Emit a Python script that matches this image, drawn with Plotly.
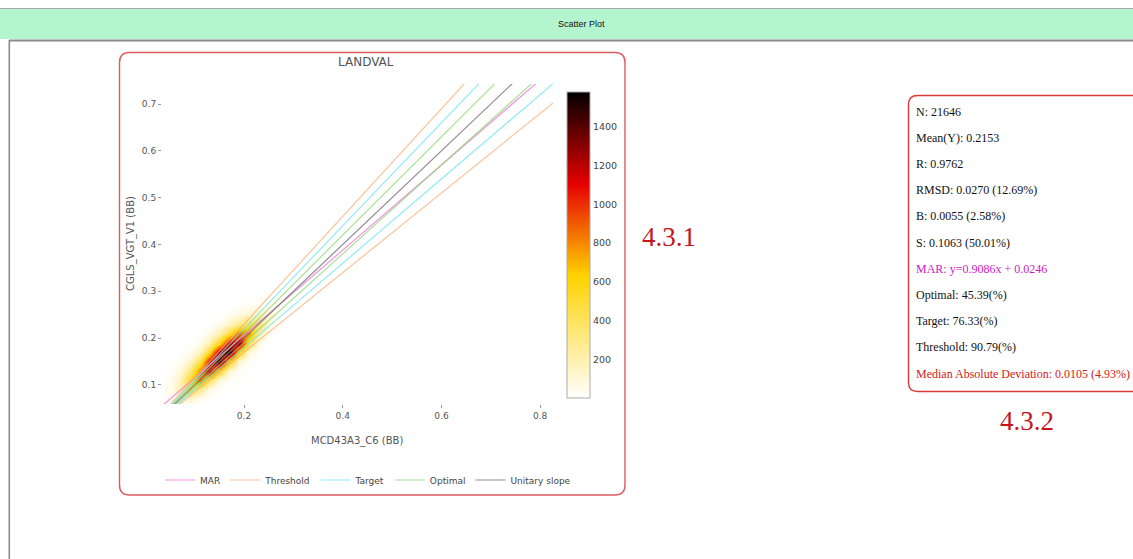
import plotly.graph_objects as go

W, H = 1133, 559

# ---------------- data ----------------
heat_x = [0.05, 0.07, 0.09, 0.11, 0.13, 0.15, 0.17, 0.19, 0.21, 0.23, 0.25, 0.27]
heat_y = [0.05, 0.07, 0.09, 0.11, 0.13, 0.15, 0.17, 0.19, 0.21, 0.23, 0.25, 0.27, 0.29]
heat_z = [
    [20, 20, 7, 3, 0, 0, 0, 0, 0, 0, 0, 0],
    [40, 120, 100, 27, 7, 0, 0, 0, 0, 0, 0, 0],
    [42, 200, 450, 280, 54, 10, 0, 0, 0, 0, 0, 0],
    [30, 158, 560, 900, 420, 72, 14, 0, 0, 0, 0, 0],
    [14, 84, 315, 840, 1200, 540, 90, 16, 0, 0, 0, 0],
    [0, 27, 126, 420, 1080, 1500, 632, 93, 15, 0, 0, 0],
    [0, 0, 36, 162, 525, 1264, 1550, 580, 78, 11, 0, 0],
    [0, 0, 0, 45, 190, 543, 1160, 1300, 440, 48, 6, 0],
    [0, 0, 0, 0, 47, 174, 455, 880, 800, 220, 21, 2],
    [0, 0, 0, 0, 0, 39, 132, 280, 440, 350, 80, 6],
    [0, 0, 0, 0, 0, 0, 24, 66, 123, 160, 100, 20],
    [0, 0, 0, 0, 0, 0, 0, 11, 24, 35, 40, 20],
    [0, 0, 0, 0, 0, 0, 0, 0, 3, 6, 7, 6],
]
z_range = [0, 1580]
hot_reversed = [[0.0, "rgb(255,255,255)"], [0.4, "rgb(255,210,0)"],
                [0.7, "rgb(230,0,0)"], [1.0, "rgb(0,0,0)"]]

mar_slope = 0.9086
mar_intercept = 0.0246
band_names = ["Threshold", "Target", "Optimal"]
band_pct = [0.15, 0.10, 0.05]
band_colors = ["rgba(248,175,120,0.75)", "rgba(110,228,235,0.75)", "rgba(140,215,115,0.75)"]
line_x = [0.0, 1.0]

x_ticks = [0.2, 0.4, 0.6, 0.8]
y_ticks = [0.1, 0.2, 0.3, 0.4, 0.5, 0.6, 0.7]
cbar_ticks = [200, 400, 600, 800, 1000, 1200, 1400]

stats_text = [
    "N: 21646",
    "Mean(Y): 0.2153",
    "R: 0.9762",
    "RMSD: 0.0270 (12.69%)",
    "B: 0.0055 (2.58%)",
    "S: 0.1063 (50.01%)",
    "MAR: y=0.9086x + 0.0246",
    "Optimal: 45.39(%)",
    "Target: 76.33(%)",
    "Threshold: 90.79(%)",
    "Median Absolute Deviation: 0.0105 (4.93%)",
]
stats_colors = ["#111", "#111", "#111", "#111", "#111", "#111",
                "#d020c8", "#111", "#111", "#111", "#d42020"]


# ---------------- helpers (pixel -> paper) ----------------
def X(p):
    return p / W


def Y(p):
    return 1 - p / H


def rrect(x0, y0, x1, y1, r):
    def P(x, y):
        return f"{X(x):.6f},{Y(y):.6f}"
    return (f"M{P(x0 + r, y0)} L{P(x1 - r, y0)} Q{P(x1, y0)} {P(x1, y0 + r)} "
            f"L{P(x1, y1 - r)} Q{P(x1, y1)} {P(x1 - r, y1)} L{P(x0 + r, y1)} "
            f"Q{P(x0, y1)} {P(x0, y1 - r)} L{P(x0, y0 + r)} Q{P(x0, y0)} {P(x0 + r, y0)} Z")


fig = go.Figure()

fig.add_trace(go.Heatmap(
    x=heat_x, y=heat_y, z=heat_z, zmin=z_range[0], zmax=z_range[1],
    colorscale=hot_reversed, zsmooth="best", hoverinfo="skip", showlegend=False,
    colorbar=dict(
        x=X(567), xanchor="left", xpad=0, ypad=0,
        y=Y(245), yanchor="middle",
        thickness=23, thicknessmode="pixels",
        len=306, lenmode="pixels",
        outlinewidth=1, outlinecolor="#aaa",
        tickvals=cbar_ticks, ticks="",
        tickfont=dict(family="DejaVu Sans", size=9.5, color="#444"),
    ),
))

# MAR line
fig.add_trace(go.Scatter(
    x=line_x, y=[mar_slope * v + mar_intercept for v in line_x],
    mode="lines", name="MAR", line=dict(color="rgba(240,130,220,0.85)", width=1.2),
    hoverinfo="skip",
))

for name, pct, col in zip(band_names, band_pct, band_colors):
    for k, sign in enumerate([1, -1]):
        fig.add_trace(go.Scatter(
            x=line_x, y=[(1 + sign * pct) * v for v in line_x],
            mode="lines", name=name, legendgroup=name, showlegend=(k == 0),
            line=dict(color=col, width=1.2), hoverinfo="skip",
        ))

fig.add_trace(go.Scatter(
    x=line_x, y=line_x, mode="lines", name="Unitary slope",
    line=dict(color="rgba(120,120,120,0.85)", width=1.2), hoverinfo="skip",
))

axis_common = dict(
    showgrid=False, zeroline=False, showline=False,
    ticks="outside", ticklen=3, tickcolor="#999", tickwidth=1,
    tickfont=dict(family="DejaVu Sans", size=9, color="#555"),
)

fig.update_layout(
    width=W, height=H,
    margin=dict(l=0, r=0, t=0, b=0),
    paper_bgcolor="white", plot_bgcolor="white",
    xaxis=dict(domain=[X(162), X(553)], range=[0.0338, 0.826],
               tickvals=x_ticks, tickformat=".1f", **axis_common),
    yaxis=dict(domain=[Y(404), Y(84)], range=[0.0594, 0.7427],
               tickvals=y_ticks, tickformat=".1f", **axis_common),
    showlegend=True,
    legend=dict(orientation="h", x=X(160), xanchor="left", y=Y(480), yanchor="middle",
                font=dict(family="DejaVu Sans", size=9, color="#444"),
                bgcolor="rgba(0,0,0,0)", itemwidth=30, tracegroupgap=0),
)

shapes = [
    # header bar
    dict(type="rect", xref="paper", yref="paper", x0=0, x1=1, y0=Y(39), y1=Y(9),
         fillcolor="#b4f5cf", line=dict(width=0), layer="below"),
    dict(type="line", xref="paper", yref="paper", x0=0, x1=1, y0=Y(8.5), y1=Y(8.5),
         line=dict(color="#a8a8a8", width=1)),
    dict(type="line", xref="paper", yref="paper", x0=X(9), x1=1, y0=Y(40.5), y1=Y(40.5),
         line=dict(color="#8a8a8a", width=2)),
    dict(type="line", xref="paper", yref="paper", x0=X(9.3), x1=X(9.3), y0=Y(40), y1=0,
         line=dict(color="#8a8a8a", width=1.6)),
    # chart box
    dict(type="path", xref="paper", yref="paper", path=rrect(119.5, 52.5, 625, 495, 10),
         line=dict(color="#dc5c60", width=1.4)),
    # stats box
    dict(type="path", xref="paper", yref="paper", path=rrect(908.5, 95.5, 1145, 391.5, 9),
         line=dict(color="#d83a3a", width=1.4)),
]
fig.update_layout(shapes=shapes)

ann = [
    dict(text="Scatter Plot", x=X(581), y=Y(24), font=dict(family="Liberation Sans", size=9, color="#111")),
    dict(text="LANDVAL", x=X(366), y=Y(62), font=dict(family="DejaVu Sans", size=12, color="#555")),
    dict(text="MCD43A3_C6 (BB)", x=X(357), y=Y(441), font=dict(family="DejaVu Sans", size=10, color="#555")),
    dict(text="CGLS_VGT_V1 (BB)", x=X(131), y=Y(244), textangle=-90,
         font=dict(family="DejaVu Sans", size=10, color="#555")),
    dict(text="4.3.1", x=X(669), y=Y(237), font=dict(family="Liberation Serif", size=27, color="#c4161c")),
    dict(text="4.3.2", x=X(1027), y=Y(421), font=dict(family="Liberation Serif", size=27, color="#c4161c")),
]
for i, (t, c) in enumerate(zip(stats_text, stats_colors)):
    ann.append(dict(text=t, x=X(914), y=Y(111.5 + 26.2 * i), xanchor="left",
                    font=dict(family="Liberation Serif", size=12, color=c)))

for a in ann:
    a.setdefault("xanchor", "center")
    a.update(xref="paper", yref="paper", yanchor="middle", showarrow=False)
fig.update_layout(annotations=ann)

fig.write_html("out.html")
